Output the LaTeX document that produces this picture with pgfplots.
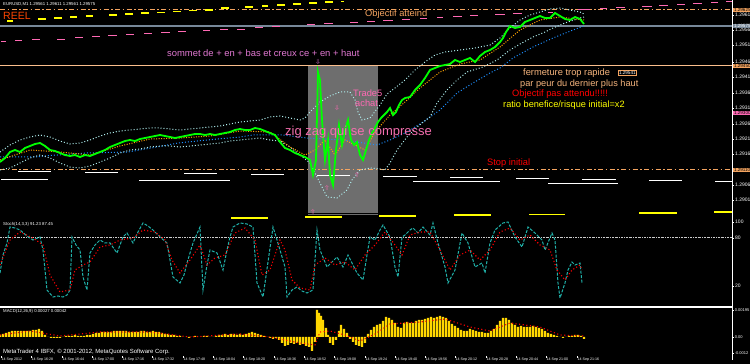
\documentclass[border=0pt]{standalone}
\usepackage{fontspec}
\setmainfont{Liberation Sans}
\usepackage{pgfplots}
\pgfplotsset{compat=1.18}
\definecolor{sandy}{RGB}{244,164,96}
\definecolor{slateline}{RGB}{119,136,153}
\definecolor{peach}{RGB}{250,190,140}
\definecolor{rectgray}{RGB}{110,110,110}
\definecolor{pinkd}{RGB}{255,105,180}
\definecolor{mtgreen}{RGB}{0,255,0}
\definecolor{lcyan}{RGB}{175,238,238}
\definecolor{dblue}{RGB}{30,144,255}
\definecolor{oscteal}{RGB}{32,178,170}
\definecolor{gold}{RGB}{255,215,0}
\definecolor{mtyellow}{RGB}{255,255,0}
\definecolor{sommetc}{RGB}{225,120,210}
\definecolor{zigc}{RGB}{245,110,175}
\definecolor{tanc}{RGB}{245,180,125}
\definecolor{reelc}{RGB}{255,69,0}
\definecolor{fastma}{RGB}{255,165,0}
\newcommand{\fs}[1]{\fontsize{#1}{#1}\selectfont}
\begin{document}
\begin{tikzpicture}
\fill[black] (0,0) rectangle (750pt,364pt);
\pgfplotsset{panel/.style={scale only axis, width=732pt, xmin=0, xmax=732, anchor=south west,
  axis line style={draw=none}, axis background/.style={fill=black}, clip=false,
  xtick=\empty, ytick pos=right, yticklabel pos=right,
  tick style={white, line width=0.6pt}, tick align=outside, major tick length=2pt,
  yticklabel style={font=\fs{5}, text=white, inner sep=1pt},
  unbounded coords=jump}}

% ================= MAIN PRICE PANEL =================
\begin{axis}[panel, at={(0pt,150pt)}, height=214pt, ymin=0, ymax=214, y dir=reverse,
  ytick={15,30,45,62,77,93,108,124,139,154,185,200},
  yticklabels={1.2961,1.2956,1.2951,1.2946,1.2941,1.2936,1.2931,1.2926,1.2921,1.2916,1.2906,1.2901}]
\fill[rectgray] (axis cs:308,66) rectangle (axis cs:378,213);
% horizontal levels
\addplot[sandy, line width=1pt, dash pattern=on 5pt off 2.5pt on 1.5pt off 2.5pt] coordinates {(0,10) (732,10)};
\addplot[slateline, line width=1.2pt] coordinates {(0,26) (732,26)};
\addplot[peach, line width=1pt] coordinates {(0,66) (732,66)};
\addplot[sandy, line width=1pt, dash pattern=on 5pt off 2.5pt on 1.5pt off 2.5pt] coordinates {(0,170) (732,170)};
% pink dashes
\addplot[pinkd, line width=1pt] coordinates {
(1,42)(6,42)(6,nan) (15,41)(22,41)(22,nan) (32,40)(40,40)(40,nan) (57,39.5)(65,39.5)(65,nan)
(75,38)(83,38)(83,nan) (92,37)(100,37)(100,nan) (108,36)(117,36)(117,nan) (126,35)(134,35)(134,nan)
(144,34)(152,34)(152,nan) (161,33)(170,33)(170,nan) (178,32)(186,32)(186,nan) (203,31)(210,31)(210,nan)
(220,30)(228,30)(228,nan) (237,29.5)(245,29.5)(245,nan) (255,28)(263,28)(263,nan) (272,27)(280,27)(280,nan)
(307,25)(315,25)(315,nan) (324,24)(333,24)(333,nan) (350,23)(358,23)(358,nan) (367,22)(375,22)(375,nan)
(383,21)(393,21)(393,nan) (402,20)(410,20)(410,nan) (420,19)(427,19)(427,nan) (437,18)(443,18)(443,nan)
(453,17)(462,17)(462,nan) (470,16)(478,16)(478,nan) (495,15)(505,15)(505,nan) (513,14)(522,14)(522,nan)
(548,13)(553,13)(553,nan) (578,10)(590,10)(590,nan) (600,9)(607,9)(607,nan) (616,8)(625,8)(625,nan)
(642,7)(652,7)(652,nan) (659,6)(668,6)(668,nan) (677,5)(685,5)(685,nan) (693,4)(702,4)(702,nan)
(711,3)(718,3)(718,nan) (726,2)(732,2)};
% yellow dashes (top)
\addplot[mtyellow, line width=1.3pt] coordinates {
(7,21)(13,21)(13,nan) (38,19)(46,19)(46,nan) (54,18)(62,18)(62,nan) (70,17)(77,17)(77,nan)
(86,16)(93,16)(93,nan) (109,15)(117,15)(117,nan) (125,14)(133,14)(133,nan) (141,13)(149,13)(149,nan)
(157,12.5)(165,12.5)(165,nan) (173,11.5)(181,11.5)(181,nan) (189,10.5)(197,10.5)(197,nan)
(205,10)(213,10)(213,nan) (221,8)(229,8)(229,nan) (245,7)(253,7)(253,nan) (262,6)(268,6)(268,nan)
(277,5)(285,5)(285,nan) (293,4)(301,4)(301,nan) (309,3)(317,3)(317,nan) (325,2)(333,2)(333,nan)
(341,1.3)(344,1.3)};
% white segments (lower)
\addplot[white, line width=1pt] coordinates {
(1,180)(48,180)(48,nan) (18,172)(51,172)(51,nan) (85,173)(118,173)(118,nan) (139,181)(230,181)(230,nan)
(184,174)(217,174)(217,nan) (251,175)(284,175)(284,nan) (317,176)(350,176)(350,nan)
(383,177)(417,177)(417,nan) (413,182)(500,182)(500,nan) (450,178)(483,178)(483,nan)
(516,179)(549,179)(549,nan) (548,184)(618,184)(618,nan) (582,180)(616,180)(616,nan)
(649,181)(682,181)(682,nan) (715,182)(732,182)};
% blue slow MA
\addplot[dblue, line width=1pt, dash pattern=on 1pt off 2pt] coordinates {
(0,157)(37,157)(43,156)(87,153)(128,152)(157,147)(178,143)(207,140)(240,137)(253,135)(283,135)
(307,138)(343,140)(377,145)(390,140)(407,132)(423,122)(440,110)(457,93)(473,83)(490,73)(500,68)
(513,58)(533,47)(553,38)(573,30)(584,26)};
% upper band
\addplot[lcyan, line width=1pt, dash pattern=on 1pt off 2pt] coordinates {
(0,152)(10,145)(20,140)(30,137)(40,135)(50,137)(60,141)(70,144)(80,143)(90,140)(100,136)(110,133)
(120,131)(130,130)(140,129)(150,128)(160,128)(170,129)(180,130)(190,129)(200,128)(210,127)(220,126)
(230,124)(240,122)(250,121)(260,120)(270,117)(280,116)(290,118)(300,120)(305,118)(310,112)(320,102)
(330,96)(340,92)(350,92)(355,100)(358,112)(362,120)(370,118)(380,105)(387,94)(395,88)(405,80)
(415,70)(425,62)(435,55)(445,52)(460,50)(475,48)(490,45)(500,38)(510,28)(520,20)(530,15)(540,12)
(550,9)(560,8)(570,10)(580,12)(584,14)};
% lower band
\addplot[lcyan, line width=1pt, dash pattern=on 1pt off 2pt] coordinates {
(0,170)(10,168)(20,163)(30,158)(40,155)(50,158)(60,163)(70,167)(80,168)(90,166)(100,162)(110,158)
(120,153)(130,150)(140,149)(150,147)(160,146)(170,146)(180,147)(190,146)(200,145)(210,144)(220,143)
(230,141)(240,140)(250,139)(260,138)(270,140)(280,141)(290,147)(300,155)(310,163)(317,177)(327,197)
(337,198)(347,190)(352,180)(360,170)(370,168)(380,169)(385,170)(390,163)(397,150)(407,137)(417,127)
(430,117)(437,103)(447,90)(457,80)(467,72)(483,67)(497,60)(510,50)(520,44)(533,37)(545,32)(553,28)
(565,23)(580,18)(584,17)};
% fast MA
\addplot[fastma, line width=1pt, dash pattern=on 1pt off 1.5pt] coordinates {
(0,160)(30,150)(60,152)(90,155)(120,146)(150,139)(180,138)(210,136)(240,131)(270,132)(290,147)
(305,155)(315,150)(325,140)(335,155)(345,140)(355,145)(365,150)(375,132)(390,115)(405,102)(420,88)
(440,72)(460,64)(480,60)(500,47)(520,30)(540,20)(560,17)(584,20)};
% price
\addplot[mtgreen, line width=1.8pt] coordinates {
(0,162)(5,158)(10,152)(15,150)(20,152)(25,148)(30,146)(35,144)(40,143)(45,146)(50,150)(55,151)
(60,153)(65,155)(70,156)(75,155)(80,157)(85,155)(90,156)(95,154)(100,152)(105,150)(110,147)(115,145)
(120,143)(125,141)(130,140)(135,141)(140,139)(145,138)(150,137)(155,136)(160,135)(165,136)(170,137)
(175,138)(180,137)(185,136)(190,135)(195,134)(200,134)(205,135)(210,134)(215,135)(220,134)(225,133)
(230,132)(235,130)(240,129)(245,130)(250,130)(255,128)(260,129)(265,131)(270,133)(275,135)(280,142)
(285,148)(290,150)(295,153)(300,155)(305,157)(310,160)(313,175)(316,160)(318,72)(320,80)(322,120)
(325,160)(328,140)(330,175)(333,185)(336,150)(339,125)(342,145)(345,130)(348,120)(351,140)(354,145)
(357,142)(360,155)(363,160)(366,150)(369,140)(372,133)(375,128)(378,122)(381,118)(384,115)(387,112)
(390,108)(393,115)(396,112)(399,105)(402,100)(405,98)(410,97)(415,90)(420,85)(425,78)(430,70)
(435,68)(440,66)(445,65)(450,64)(455,60)(460,62)(465,60)(470,58)(475,62)(480,56)(485,52)(490,50)
(495,47)(500,42)(503,38)(506,32)(510,26)(515,28)(520,27)(525,22)(530,20)(535,18)(540,16)(545,18)
(550,18)(555,13)(560,16)(565,19)(570,20)(575,17)(580,19)(584,24)};
% texts
\node[anchor=west, text=white, font=\fs{4.3}, inner sep=0pt] at (axis cs:3,4) {EURUSD,M1  1.29561 1.29611 1.29561 1.29575};
\node[anchor=west, text=reelc, font=\fs{10.5}, inner sep=0pt] at (axis cs:3,16) {REEL};
\node[anchor=west, text=sandy, font=\fs{9.3}, inner sep=0pt] at (axis cs:365,14) {Objectif atteind};
\node[anchor=west, text=sommetc, font=\fs{9.4}, inner sep=0pt] at (axis cs:167,53) {sommet de + en + bas et creux ce + en + haut};
\node[anchor=west, text=pinkd, font=\fs{9.3}, inner sep=0pt] at (axis cs:353,93) {Trade5};
\node[anchor=west, text=pinkd, font=\fs{9.3}, inner sep=0pt] at (axis cs:355,103) {achat};
\node[anchor=west, text=zigc, font=\fs{13}, inner sep=0pt] at (axis cs:285,132) {zig zag qui se compresse};
\node[anchor=west, text=tanc, font=\fs{9.3}, inner sep=0pt] at (axis cs:523,73.5) {fermeture trop rapide};
\node[anchor=west, draw=sandy, text=white, font=\fs{4.6}, inner sep=0.8pt] at (axis cs:618,72.5) {1.29541};
\node[anchor=west, text=tanc, font=\fs{9.2}, inner sep=0pt] at (axis cs:520,84) {par peur du dernier plus haut};
\node[anchor=west, text=red, font=\fs{9.3}, inner sep=0pt] at (axis cs:512,94.5) {Objectif pas attendu!!!!!};
\node[anchor=west, text=mtyellow, font=\fs{9.2}, inner sep=0pt] at (axis cs:503,105.5) {ratio benefice/risque initial=x2};
\node[anchor=west, text=red, font=\fs{9.3}, inner sep=0pt] at (axis cs:487,163) {Stop initial};
\node[text=sommetc, font=\fs{6}, inner sep=0pt] at (axis cs:318,62) {$\Downarrow$};
\node[text=pinkd, font=\fs{6}, inner sep=0pt] at (axis cs:337,108) {$\Downarrow$};
\node[text=pinkd, font=\fs{6}, inner sep=0pt] at (axis cs:357,175) {$\Uparrow$};
\node[text=pinkd, font=\fs{6}, inner sep=0pt] at (axis cs:327,188) {$\Uparrow$};
% price boxes on the scale
\node[anchor=west, fill=sandy, text=black, font=\fs{4.6}, inner sep=0.8pt] at (axis cs:733,10) {1.29625};
\node[anchor=west, fill=slateline, text=white, font=\fs{4.6}, inner sep=0.8pt] at (axis cs:733,26) {1.29575};
\node[anchor=west, fill=sandy, text=black, font=\fs{4.6}, inner sep=0.8pt] at (axis cs:733,66) {1.29450};
\node[anchor=west, fill=pinkd, text=black, font=\fs{4.6}, inner sep=0.8pt] at (axis cs:733,113) {1.29300};
\node[anchor=west, fill=sandy, text=black, font=\fs{4.6}, inner sep=0.8pt] at (axis cs:733,170) {1.29110};
\end{axis}

% ================= OSCILLATOR PANEL =================
\begin{axis}[panel, at={(0pt,57pt)}, height=93pt, ymin=214, ymax=307, y dir=reverse,
  ytick={222,238,286}, yticklabels={100,80,20}]
% continuation of the grey zone and yellow levels of the price panel
\fill[rectgray] (axis cs:308,214) rectangle (axis cs:378,214.5);
\addplot[mtyellow, line width=1.3pt] coordinates {
(231,218)(268,218)(268,nan) (305,217)(342,217)(342,nan) (379,216)(416,216)(416,nan)
(454,215)(491,215)(491,nan) (529,214.5)(565,214.5)(565,nan) (639,213)(677,213)(677,nan) (714,212)(732,212)};
\node[text=pinkd, font=\fs{6}, inner sep=0pt] at (axis cs:313,212) {$\Uparrow$};
\addplot[white!80!black, line width=0.8pt, dash pattern=on 2pt off 1pt on 0.6pt off 1pt] coordinates {(0,237) (732,237)};
\addplot[oscteal, line width=1pt, dash pattern=on 3pt off 1.5pt] coordinates {
(0,273)(3,255)(7,243)(10,227)(15,228)(20,230)(27,236)(33,240)(40,237)(43,250)(45,270)(47,290)(53,297)
(58,296)(63,297)(67,295)(70,290)(72,237)(76,245)(80,250)(83,277)(87,290)(90,253)(95,245)(100,240)
(105,243)(110,243)(117,253)(123,237)(127,233)(133,243)(138,232)(143,223)(148,226)(153,230)(160,237)
(167,243)(170,260)(173,277)(180,283)(184,275)(187,263)(193,243)(200,227)(203,290)(207,265)(210,250)
(217,253)(223,270)(227,250)(230,237)(233,227)(240,223)(247,224)(253,227)(257,283)(263,297)(268,262)
(273,227)(277,240)(280,250)(285,267)(287,297)(292,290)(297,287)(302,291)(307,293)(313,290)(317,230)
(320,250)(327,267)(332,262)(337,257)(343,267)(348,255)(353,265)(357,273)(363,280)(367,255)(370,237)
(375,240)(380,230)(383,225)(390,237)(395,267)(398,277)(402,237)(405,235)(410,230)(413,228)(418,233)
(423,227)(430,235)(433,223)(438,243)(445,267)(448,283)(455,270)(462,233)(468,243)(475,267)(482,263)
(485,273)(490,243)(495,230)(503,223)(508,222)(515,237)(522,247)(528,227)(535,233)(542,240)(545,250)
(552,233)(555,240)(558,283)(560,298)(565,283)(568,270)(572,262)(575,265)(580,263)(582,283)};
\addplot[red, line width=1.1pt, dash pattern=on 1.1pt off 2.2pt] coordinates {
(0,265)(10,240)(20,232)(33,238)(43,245)(50,275)(60,292)(70,290)(75,270)(83,265)(90,262)(100,247)
(110,245)(120,240)(133,238)(143,230)(155,232)(165,240)(172,260)(180,273)(190,260)(200,245)(207,265)
(215,258)(225,255)(235,233)(245,228)(255,240)(262,275)(270,270)(280,240)(285,250)(292,280)(300,288)
(310,290)(315,265)(325,258)(335,265)(345,262)(355,270)(365,255)(375,245)(385,232)(395,245)(402,255)
(410,235)(420,232)(430,232)(440,250)(450,270)(460,255)(470,250)(480,260)(490,250)(500,232)(510,228)
(520,240)(530,235)(540,245)(550,250)(557,270)(565,280)(572,270)(580,265)(582,270)};
\node[anchor=west, text=white, font=\fs{4.3}, inner sep=0pt] at (axis cs:3,224) {Stoch(14,3,3) 91.23 87.45};
\end{axis}

% ================= MACD PANEL =================
\begin{axis}[panel, at={(0pt,8pt)}, height=49pt, ymin=-19, ymax=30,
  ytick={27,0,-16}, yticklabels={0.00195,0.00,-0.0012},
  yticklabel style={font=\fs{4}, text=white, inner sep=0.6pt},
  xtick={1,31,62,92,122,152,183,213,243,274,304,334,365,395,425,455,486,516,546,577},
  xticklabels={14 Sep 2012,14 Sep 16:28,14 Sep 16:44,14 Sep 17:00,14 Sep 17:16,14 Sep 17:32,14 Sep 17:48,
    14 Sep 18:04,14 Sep 18:20,14 Sep 18:36,14 Sep 18:52,14 Sep 19:08,14 Sep 19:24,14 Sep 19:40,
    14 Sep 19:56,14 Sep 20:12,14 Sep 20:28,14 Sep 20:44,14 Sep 21:00,14 Sep 21:16},
  xtick pos=left, xticklabel pos=left,
  xticklabel style={font=\fs{3.6}, text=white, anchor=north west, inner sep=0.5pt, yshift=1pt}]
\addplot[ybar, bar width=2.2pt, fill=gold, draw=none] coordinates {
(0,2)(3,3)(6,4)(9,5)(12,6)(15,6)(18,6)(21,6)(24,6)(27,6)(30,6)(33,7)(36,7)(39,8)(42,6)(45,2)(48,0)
(51,-1)(54,-1)(57,-1)(60,-1)(63,0)(66,1)(69,1)(72,1)(75,2)(78,1)(81,1)(84,1)(87,2)(90,2)(93,3)(96,4)
(99,4)(102,5)(105,5)(108,5)(111,5)(114,6)(117,6)(120,6)(123,6)(126,6)(129,5)(132,5)(135,5)(138,5)
(141,6)(144,6)(147,5)(150,5)(153,6)(156,5)(159,5)(162,4)(165,3)(168,3)(171,2)(174,2)(177,1)(180,1)
(183,0)(186,0)(189,-1)(192,0)(195,1)(198,0)(201,0)(204,1)(207,1)(210,0)(213,0)(216,1)(219,2)(222,2)
(225,3)(228,2)(231,3)(234,3)(237,2)(240,3)(243,2)(246,3)(249,4)(252,5)(255,4)(258,3)(261,2)(264,1)
(267,0)(270,-1)(273,-2)(276,-1)(279,-3)(282,-6)(285,-9)(288,-8)(291,-6)(294,-7)(297,-6)(300,-8)
(303,-7)(306,-9)(309,-10)(312,-14)(315,-5)(317,27)(319,24)(321,21)(323,17)(326,9)(328,2)(330,-6)
(333,-8)(336,-3)(339,6)(341,12)(344,8)(347,4)(350,-2)(353,-5)(356,-8)(359,-9)(362,-10)(365,-6)
(368,3)(371,7)(374,10)(377,12)(380,13)(383,16)(386,20)(389,19)(392,17)(395,14)(398,10)(401,9)
(404,14)(407,15)(410,14)(413,14)(416,16)(419,17)(422,17)(425,18)(428,19)(431,20)(434,19)(437,20)
(440,21)(443,20)(446,19)(449,16)(452,13)(455,11)(458,9)(461,7)(464,6)(467,6)(470,8)(473,7)(476,6)
(479,5)(482,5)(485,4)(488,4)(491,6)(494,8)(497,12)(500,16)(503,19)(506,19)(509,17)(512,14)(515,12)
(518,10)(521,11)(524,10)(527,10)(530,10)(533,11)(536,10)(539,9)(542,8)(545,6)(548,4)(551,3)(554,2)
(557,1)(560,0)(563,-1)(566,0)(569,1)(572,1)(575,2)(578,2)(581,1)(584,-2)};
\addplot[red, line width=1.1pt, dash pattern=on 1.1pt off 2.5pt] coordinates {
(0,2)(30,6)(60,1)(100,5)(150,5)(190,0)(240,3)(270,0)(300,-6)(315,-8)(320,5)(330,6)(345,2)(360,-4)
(375,3)(390,13)(420,15)(445,18)(470,10)(490,6)(510,14)(540,10)(560,2)(584,1)};
\node[anchor=west, text=white, font=\fs{4.3}, inner sep=0pt] at (axis cs:3,26) {MACD(12,26,9) 0.00027 0.00042};
\node[anchor=west, text=white, font=\fs{6}, inner sep=0pt] at (axis cs:3,-15) {MetaTrader 4 IBFX, © 2001-2012, MetaQuotes Software Corp.};
\end{axis}

\draw[white, line width=1.2pt] (0pt,57pt) -- (732pt,57pt);
\draw[white, line width=1pt] (732pt,4pt) -- (732pt,364pt);
\pgfresetboundingbox
\useasboundingbox (0,0) rectangle (750pt,364pt);
\end{tikzpicture}
\end{document}
